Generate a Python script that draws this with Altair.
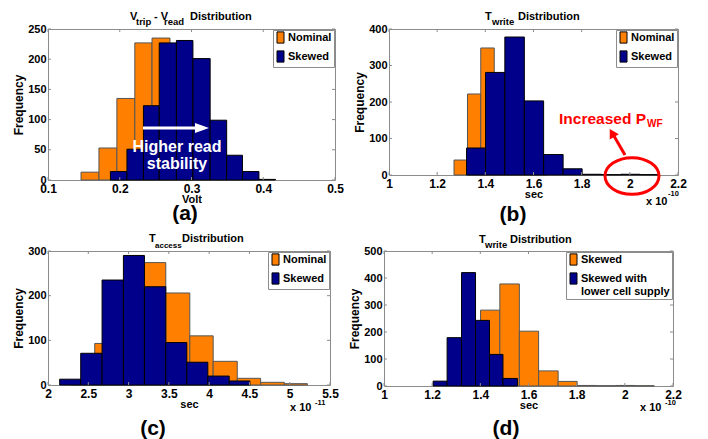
import altair as alt
import pandas as pd

FONT = "Liberation Sans"
ORANGE = "#FF8000"
NAVY = "#00008B"
FRAME = "#8c8c8c"
RED = "#FF0000"

# ---------------- data ----------------
# (a) V_trip - V_read  [Volt]
a_nom_edges = [0.146, 0.171, 0.196, 0.221, 0.245, 0.270, 0.295, 0.320, 0.344, 0.369, 0.394]
a_nom_counts = [13, 53, 135, 227, 235, 190, 100, 35, 10, 2]
a_skw_edges = [0.187, 0.210, 0.233, 0.255, 0.279, 0.302, 0.326, 0.349, 0.371, 0.394, 0.417]
a_skw_counts = [14, 51, 123, 227, 231, 201, 99, 41, 14, 1]
a_xticks = [0.1, 0.2, 0.3, 0.4, 0.5]
a_yticks = [0, 50, 100, 150, 200, 250]

# (b) T_write  [x 1e-10 sec]
b_nom_edges = [1.270, 1.326, 1.381, 1.437, 1.492, 1.548, 1.603, 1.659]
b_nom_counts = [41, 222, 348, 250, 100, 30, 8]
b_skw_edges = [1.322, 1.401, 1.481, 1.562, 1.642, 1.723, 1.802, 1.882, 1.963, 2.043, 2.122]
b_skw_counts = [74, 281, 378, 203, 56, 17, 2, 1, 2, 1]
b_xticks = [1, 1.2, 1.4, 1.6, 1.8, 2, 2.2]
b_yticks = [0, 100, 200, 300, 400]

# (c) T_access  [x 1e-11 sec]
c_nom_edges = [2.286, 2.580, 2.874, 3.168, 3.462, 3.760, 4.050, 4.349, 4.639, 4.933, 5.219]
c_nom_counts = [8, 93, 220, 274, 206, 110, 53, 15, 6, 3]
c_skw_edges = [2.145, 2.406, 2.671, 2.936, 3.197, 3.462, 3.723, 3.984, 4.249, 4.506]
c_skw_counts = [13, 71, 235, 290, 220, 95, 51, 20, 9]
c_xticks = [2, 2.5, 3, 3.5, 4, 4.5, 5, 5.5]
c_yticks = [0, 100, 200, 300]

# (d) T_write  [x 1e-10 sec]
d_low_edges = [1.204, 1.262, 1.322, 1.380, 1.438, 1.494, 1.554]
d_low_counts = [18, 179, 420, 243, 117, 28]
d_xticks = [1, 1.2, 1.4, 1.6, 1.8, 2, 2.2]
d_yticks = [0, 100, 200, 300, 400, 500]

NOMINAL = "Nominal"
SKEWED = "Skewed"
LOWER = "Skewed with lower cell supply"


# ---------------- helpers ----------------
def txt(text, x, y, size, color="black", align="left", baseline="alphabetic"):
    return alt.Chart(pd.DataFrame({"t": [text]})).mark_text(
        align=align, baseline=baseline, fontSize=size, fontWeight="bold",
        font=FONT, color=color
    ).encode(x=alt.value(x), y=alt.value(y), text="t:N")


def panel(series, xdom, xticks, ydom, yticks, W, H, xtitle, names, extra,
          label_expr=None):
    xs = alt.Scale(domain=xdom, nice=False, zero=False)
    ys = alt.Scale(domain=ydom, nice=False, zero=False)
    xaxis = alt.Axis(values=xticks, format="~g", title=xtitle,
                     ticks=False, domain=False, grid=False,
                     labelPadding=3, titlePadding=-1, minExtent=0,
                     labelFontSize=12, titleFontSize=11,
                     labelFlush=False)
    yaxis = alt.Axis(values=yticks, title="Frequency",
                     ticks=False, domain=False, grid=False,
                     labelPadding=2, titlePadding=2, minExtent=0,
                     labelFontSize=11, titleFontSize=12,
                     labelFlush=False)
    leg_kw = dict(
        orient="top-right", offset=1, title=None, fillColor="white",
        strokeColor=FRAME, padding=2, symbolType="M-1,-1.6H1V1.6H-1Z",
        symbolSize=49, symbolStrokeColor="black", symbolStrokeWidth=1,
        labelFont=FONT, labelFontSize=11, labelFontWeight="bold",
        labelColor="black", labelOffset=2, rowPadding=2, labelLimit=200,
        symbolOpacity=1,
    )
    if label_expr:
        leg_kw["labelExpr"] = label_expr
    color = alt.Color("series:N",
                      scale=alt.Scale(domain=names, range=[ORANGE, NAVY]),
                      legend=alt.Legend(**leg_kw))
    layers = []
    for edges, counts, name, stroke in series:
        df = pd.DataFrame({"x0": edges[:-1], "x1": edges[1:],
                           "count": counts, "series": name})
        layers.append(alt.Chart(df).mark_bar(stroke=stroke, strokeWidth=1, opacity=1).encode(
            x=alt.X("x0:Q", scale=xs, axis=xaxis),
            x2="x1:Q",
            y=alt.Y("count:Q", scale=ys, axis=yaxis),
            y2=alt.datum(0),
            color=color,
        ))
    # inward ticks (MATLAB style)
    xt = pd.DataFrame({"v": xticks})
    yt = pd.DataFrame({"v": yticks})
    tick = dict(color=FRAME, strokeWidth=1)
    layers.append(alt.Chart(xt).mark_rule(**tick).encode(
        x=alt.X("v:Q", scale=xs, axis=xaxis), y=alt.value(H), y2=alt.value(H - 3)))
    layers.append(alt.Chart(xt).mark_rule(**tick).encode(
        x=alt.X("v:Q", scale=xs, axis=xaxis), y=alt.value(0), y2=alt.value(3)))
    layers.append(alt.Chart(yt).mark_rule(**tick).encode(
        y=alt.Y("v:Q", scale=ys, axis=yaxis), x=alt.value(0), x2=alt.value(3)))
    layers.append(alt.Chart(yt).mark_rule(**tick).encode(
        y=alt.Y("v:Q", scale=ys, axis=yaxis), x=alt.value(W - 3), x2=alt.value(W)))
    layers.extend(extra)
    return alt.layer(*layers).properties(width=W, height=H)


# ---------------- panel (a) ----------------
arrow_a = alt.Chart(pd.DataFrame({"k": [0]})).mark_rule(color="white", strokeWidth=3).encode(
    x=alt.value(95), x2=alt.value(150), y=alt.value(99), y2=alt.value(99))
head_a = alt.Chart(pd.DataFrame({"k": [0]})).mark_point(
    shape="M-1,-0.7L1,0L-1,0.7Z", size=196, filled=True, color="white", opacity=1
).encode(x=alt.value(154), y=alt.value(99))
extra_a = [
    arrow_a, head_a,
    txt("Higher read", 129, 123, 16, color="white", align="center"),
    txt("stability", 129, 140, 16, color="white", align="center"),
    txt("V", 82, -9, 11), txt("trip", 88, -4, 9.5),
    txt("- V", 106, -9, 11), txt("read", 116, -4, 9.5),
    txt("Distribution", 142, -9, 11),
    txt("(a)", 137, 191, 21, align="center"),
]
pa = panel([(a_nom_edges, a_nom_counts, NOMINAL, "#555555"),
            (a_skw_edges, a_skw_counts, SKEWED, "black")],
           [0.1, 0.5], a_xticks, [0, 250], a_yticks, 287, 151, "Volt",
           [NOMINAL, SKEWED], extra_a)

# ---------------- panel (b) ----------------
ellipse = alt.Chart(pd.DataFrame({"k": [0]})).mark_point(
    shape="M-1,0A1,0.68 0 1,1 1,0A1,0.68 0 1,1 -1,0Z", size=2916, filled=False,
    stroke=RED, strokeWidth=3, opacity=1
).encode(x=alt.value(243), y=alt.value(147))
arrow_b = alt.Chart(pd.DataFrame({"k": [0]})).mark_rule(color=RED, strokeWidth=3).encode(
    x=alt.value(236), x2=alt.value(225), y=alt.value(126), y2=alt.value(107))
head_b = alt.Chart(pd.DataFrame({"k": [0]})).mark_point(
    shape="triangle-up", size=110, filled=True, color=RED, opacity=1, angle=330
).encode(x=alt.value(223), y=alt.value(104))
extra_b = [
    ellipse, arrow_b, head_b,
    txt("Increased P", 170, 95, 15.5, color=RED), txt("WF", 258, 98, 10, color=RED),
    txt("T", 96, -9.5, 11), txt("write", 103, -4, 9.5),
    txt("Distribution", 129, -9.5, 11),
    txt("x 10", 257, 176, 11), txt("-10", 279, 167, 7.5),
    txt("(b)", 124, 192, 21, align="center"),
]
pb = panel([(b_nom_edges, b_nom_counts, NOMINAL, "#555555"),
            (b_skw_edges, b_skw_counts, SKEWED, "black")],
           [1, 2.2], b_xticks, [0, 400], b_yticks, 289, 146, "sec",
           [NOMINAL, SKEWED], extra_b)

# ---------------- panel (c) ----------------
spacer = alt.Chart(pd.DataFrame({"k": [0]})).mark_text(
    text="|", opacity=0, align="left", fontSize=8).encode(x=alt.value(-39), y=alt.value(60))
extra_c = [
    spacer,
    txt("T", 101, -9, 11), txt("access", 107, -3, 8),
    txt("Distribution", 134, -9, 11),
    txt("x 10", 242, 160, 11), txt("-11", 267, 154, 7.5),
    txt("(c)", 105, 184, 21, align="center"),
]
pc = panel([(c_nom_edges, c_nom_counts, NOMINAL, "#555555"),
            (c_skw_edges, c_skw_counts, SKEWED, "black")],
           [2, 5.5], c_xticks, [0, 300], c_yticks, 282, 134, "sec",
           [NOMINAL, SKEWED], extra_c)

# ---------------- panel (d) ----------------
extra_d = [
    txt("T", 95, -8, 11), txt("write", 101, -3, 9.5),
    txt("Distribution", 126, -8, 11),
    txt("x 10", 256, 160, 11), txt("-10", 281, 154, 7.5),
    txt("(d)", 122, 184, 21, align="center"),
]
pd_ = panel([(b_skw_edges, b_skw_counts, SKEWED, "#555555"),
             (d_low_edges, d_low_counts, LOWER, "black")],
            [1, 2.2], d_xticks, [0, 500], d_yticks, 289, 135, "sec",
            [SKEWED, LOWER], extra_d,
            label_expr="datum.label == 'Skewed with lower cell supply' ? ['Skewed with', 'lower cell supply'] : datum.label")

res = dict(x="independent", y="independent", color="independent")
row1 = alt.hconcat(pa, pb, spacing=9).resolve_scale(**res).resolve_legend(color="independent")
row2 = alt.hconcat(pc, pd_, spacing=9).resolve_scale(**res).resolve_legend(color="independent")

chart = alt.vconcat(row1, row2, spacing=6).resolve_scale(**res).resolve_legend(
    color="independent"
).properties(
    padding={"left": 0, "top": 2, "right": 0, "bottom": 0},
    background="white",
).configure_view(
    stroke=FRAME, strokeWidth=1
).configure_axis(
    labelFont=FONT, titleFont=FONT, labelFontWeight="bold", titleFontWeight="bold",
    labelColor="black", titleColor="black"
)

chart.save("out.html", embed_options={"renderer": "svg", "actions": False})
